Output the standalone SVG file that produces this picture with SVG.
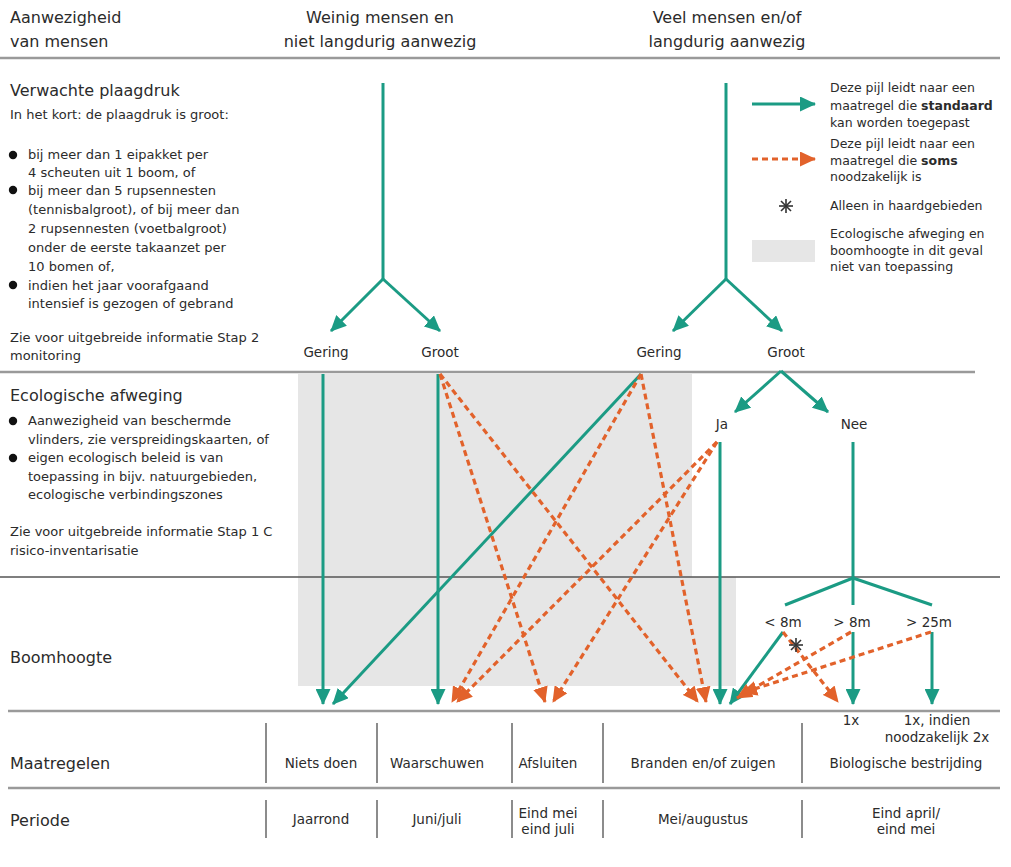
<svg xmlns="http://www.w3.org/2000/svg" width="1011" height="867" viewBox="0 0 1011 867">
<style>
text{font-family:"DejaVu Sans","Liberation Sans",sans-serif;fill:#2b2b2b}
.h{font-size:16px}
.b{font-size:13px}
.l{font-size:12.5px}
.t{font-size:13.5px;text-anchor:middle}
.c{font-size:16px;text-anchor:middle}
.g{stroke:#1b9b84;stroke-width:3;fill:none}
.o{stroke:#e2622b;stroke-width:3.2;stroke-dasharray:6 4;fill:none}
.ga{marker-end:url(#ag)}
.oa{marker-end:url(#ao)}
.rule{stroke:#9a9a9a;stroke-width:2.5}
.sep{stroke:#8c8c8c;stroke-width:2}
.ast{stroke:#333;stroke-width:1.6}
</style>
<defs>
<marker id="ag" markerWidth="17" markerHeight="15" refX="15" refY="7.5" orient="auto" markerUnits="userSpaceOnUse"><path d="M0,0 L16,7.5 L0,15 z" fill="#1b9b84"/></marker>
<marker id="ao" markerWidth="17" markerHeight="15" refX="15" refY="7.5" orient="auto" markerUnits="userSpaceOnUse"><path d="M0,0 L16,7.5 L0,15 z" fill="#e2622b"/></marker>
</defs>
<rect width="1011" height="867" fill="#fff"/>
<g id="background">
<rect x="298" y="374" width="394" height="204" fill="#e6e6e6"/>
<rect x="298" y="577" width="438" height="109" fill="#e6e6e6"/>
</g>
<g id="rules">
<line class="rule" x1="0" y1="58" x2="1000" y2="58"/>
<line class="rule" x1="0" y1="372" x2="975" y2="372"/>
<line x1="0" y1="577" x2="1000" y2="577" stroke="#555" stroke-width="1.5"/>
<line class="rule" x1="8" y1="711" x2="1000" y2="711"/>
<line class="rule" x1="8" y1="788" x2="1000" y2="788"/>
<line class="sep" x1="266" y1="723" x2="266" y2="783"/>
<line class="sep" x1="377" y1="723" x2="377" y2="783"/>
<line class="sep" x1="512" y1="723" x2="512" y2="783"/>
<line class="sep" x1="603" y1="723" x2="603" y2="783"/>
<line class="sep" x1="802" y1="723" x2="802" y2="783"/>
<line class="sep" x1="266" y1="800" x2="266" y2="838"/>
<line class="sep" x1="377" y1="800" x2="377" y2="838"/>
<line class="sep" x1="512" y1="800" x2="512" y2="838"/>
<line class="sep" x1="603" y1="800" x2="603" y2="838"/>
<line class="sep" x1="802" y1="800" x2="802" y2="838"/>
</g>
<g id="header">
<text class="h" x="10" y="23">Aanwezigheid</text>
<text class="h" x="10" y="47">van mensen</text>
<text class="c" x="380" y="23">Weinig mensen en</text>
<text class="c" x="380" y="47">niet langdurig aanwezig</text>
<text class="c" x="727" y="23">Veel mensen en/of</text>
<text class="c" x="727" y="47">langdurig aanwezig</text>
</g>
<g id="plaagdruk">
<text class="h" x="10" y="96">Verwachte plaagdruk</text>
<text class="b" x="10" y="119">In het kort: de plaagdruk is groot:</text>
<circle cx="13" cy="155" r="4.2" fill="#111"/>
<text class="b" x="28" y="159">bij meer dan 1 eipakket per</text>
<text class="b" x="28" y="177">4 scheuten uit 1 boom, of</text>
<circle cx="13" cy="190" r="4.2" fill="#111"/>
<text class="b" x="28" y="195">bij meer dan 5 rupsennesten</text>
<text class="b" x="28" y="214">(tennisbalgroot), of bij meer dan</text>
<text class="b" x="28" y="233">2 rupsennesten (voetbalgroot)</text>
<text class="b" x="28" y="252">onder de eerste takaanzet per</text>
<text class="b" x="28" y="271">10 bomen of,</text>
<circle cx="13" cy="285" r="4.2" fill="#111"/>
<text class="b" x="28" y="290">indien het jaar voorafgaand</text>
<text class="b" x="28" y="308">intensief is gezogen of gebrand</text>
<text class="b" x="10" y="342">Zie voor uitgebreide informatie Stap 2</text>
<text class="b" x="10" y="360">monitoring</text>
</g>
<g id="ecologie">
<text class="h" x="10" y="401">Ecologische afweging</text>
<circle cx="13" cy="421" r="4.2" fill="#111"/>
<text class="b" x="28" y="425">Aanwezigheid van beschermde</text>
<text class="b" x="28" y="444">vlinders, zie verspreidingskaarten, of</text>
<circle cx="13" cy="458" r="4.2" fill="#111"/>
<text class="b" x="28" y="462">eigen ecologisch beleid is van</text>
<text class="b" x="28" y="481">toepassing in bijv. natuurgebieden,</text>
<text class="b" x="28" y="499">ecologische verbindingszones</text>
<text class="b" x="10" y="536">Zie voor uitgebreide informatie Stap 1 C</text>
<text class="b" x="10" y="555">risico-inventarisatie</text>
</g>
<g id="boomhoogte">
<text class="h" x="10" y="663">Boomhoogte</text>
</g>
<g id="legend">
<line class="g ga" x1="752" y1="104" x2="815" y2="104"/>
<text class="l" x="830" y="92">Deze pijl leidt naar een</text>
<text class="l" x="830" y="110">maatregel die <tspan font-weight="bold">standaard</tspan></text>
<text class="l" x="830" y="127">kan worden toegepast</text>
<line class="o oa" x1="752" y1="159" x2="815" y2="159"/>
<text class="l" x="830" y="148">Deze pijl leidt naar een</text>
<text class="l" x="830" y="165">maatregel die <tspan font-weight="bold">soms</tspan></text>
<text class="l" x="830" y="181">noodzakelijk is</text>
<g class="ast"><line x1="779" y1="206" x2="793" y2="206"/><line x1="786" y1="199" x2="786" y2="213"/><line x1="781" y1="201" x2="791" y2="211"/><line x1="791" y1="201" x2="781" y2="211"/></g>
<text class="l" x="830" y="210">Alleen in haardgebieden</text>
<rect x="752" y="240" width="63" height="22" fill="#e6e6e6"/>
<text class="l" x="830" y="238">Ecologische afweging en</text>
<text class="l" x="830" y="255">boomhoogte in dit geval</text>
<text class="l" x="830" y="271">niet van toepassing</text>
</g>
<g id="nodes">
<g id="n-gering1"><text class="t" x="326" y="357">Gering</text></g>
<g id="n-groot1"><text class="t" x="440" y="357">Groot</text></g>
<g id="n-gering2"><text class="t" x="659" y="357">Gering</text></g>
<g id="n-groot2"><text class="t" x="786" y="357">Groot</text></g>
<g id="n-ja"><text class="t" x="722" y="429">Ja</text></g>
<g id="n-nee"><text class="t" x="854" y="429">Nee</text></g>
<g id="n-lt8"><text class="t" x="783" y="627">&lt; 8m</text></g>
<g id="n-gt8"><text class="t" x="852" y="627">&gt; 8m</text></g>
<g id="n-gt25"><text class="t" x="929" y="627">&gt; 25m</text></g>
<g id="n-1x"><text class="t" x="851" y="725">1x</text></g>
<g id="n-1x2"><text class="t" x="937" y="725">1x, indien</text><text class="t" x="937" y="742">noodzakelijk 2x</text></g>
</g>
<g id="table">
<text class="h" x="10" y="769">Maatregelen</text>
<text class="h" x="10" y="826">Periode</text>
<g id="m-niets"><text class="t" x="321" y="768">Niets doen</text><text class="t" x="321" y="824">Jaarrond</text></g>
<g id="m-waarschuwen"><text class="t" x="437" y="768">Waarschuwen</text><text class="t" x="437" y="824">Juni/juli</text></g>
<g id="m-afsluiten"><text class="t" x="548" y="768">Afsluiten</text><text class="t" x="548" y="818">Eind mei</text><text class="t" x="548" y="834">eind juli</text></g>
<g id="m-branden"><text class="t" x="703" y="768">Branden en/of zuigen</text><text class="t" x="703" y="824">Mei/augustus</text></g>
<g id="m-bio"><text class="t" x="906" y="768">Biologische bestrijding</text><text class="t" x="906" y="818">Eind april/</text><text class="t" x="906" y="834">eind mei</text></g>
</g>
<g id="connectors">
<line class="g" x1="383" y1="83" x2="383" y2="279"/>
<line class="g ga" x1="383" y1="279" x2="331" y2="331"/>
<line class="g ga" x1="383" y1="279" x2="440" y2="331"/>
<line class="g" x1="726" y1="83" x2="726" y2="279"/>
<line class="g ga" x1="726" y1="279" x2="673" y2="331"/>
<line class="g ga" x1="726" y1="279" x2="782" y2="331"/>
<line class="g ga" x1="781" y1="371" x2="735" y2="412"/>
<line class="g ga" x1="781" y1="371" x2="828" y2="412"/>
<line class="g ga" x1="323" y1="374" x2="323" y2="704"/>
<line class="g ga" x1="438" y1="374" x2="438" y2="704"/>
<line class="g ga" x1="641" y1="374" x2="333" y2="704"/>
<line class="g ga" x1="720" y1="442" x2="720" y2="704"/>
<line class="o oa" x1="440" y1="374" x2="545" y2="702"/>
<line class="o oa" x1="440" y1="374" x2="698" y2="702"/>
<line class="o oa" x1="641" y1="374" x2="452" y2="702"/>
<line class="o oa" x1="641" y1="374" x2="706" y2="702"/>
<line class="o oa" x1="717" y1="442" x2="457" y2="702"/>
<line class="o oa" x1="717" y1="442" x2="553" y2="702"/>
<line class="g" x1="853" y1="442" x2="853" y2="578"/>
<line class="g" x1="853" y1="578" x2="785" y2="605"/>
<line class="g" x1="853" y1="578" x2="853" y2="605"/>
<line class="g" x1="853" y1="578" x2="932" y2="605"/>
<line class="g ga" x1="783" y1="632" x2="730" y2="704"/>
<line class="g ga" x1="853" y1="632" x2="853" y2="704"/>
<line class="g ga" x1="932" y1="632" x2="932" y2="704"/>
<line class="o oa" x1="783" y1="632" x2="838" y2="702"/>
<line class="o oa" x1="851" y1="632" x2="737" y2="698"/>
<line class="o oa" x1="931" y1="632" x2="742" y2="693"/>
<g class="ast"><line x1="789" y1="645" x2="803" y2="645"/><line x1="796" y1="638" x2="796" y2="652"/><line x1="791" y1="640" x2="801" y2="650"/><line x1="801" y1="640" x2="791" y2="650"/></g>
</g>
</svg>
